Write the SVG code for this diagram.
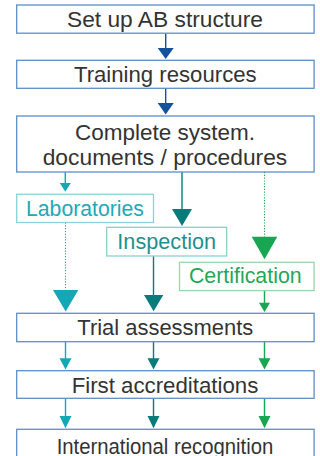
<svg xmlns="http://www.w3.org/2000/svg" width="320" height="456" viewBox="0 0 320 456">
<style>
.box{fill:#fff;stroke:#5b8fc9;stroke-width:1.3}
.t{font-family:"Liberation Sans",Arial,sans-serif;font-size:22px;fill:#333;text-anchor:middle}
.ct{font-family:"Liberation Sans",Arial,sans-serif;font-size:21.3px;text-anchor:middle}
.labBox{fill:#fff;stroke:#86d3db;stroke-width:1.3}
.insBox{fill:#fff;stroke:#8acfd0;stroke-width:1.3}
.cerBox{fill:#fff;stroke:#93d9ab;stroke-width:1.3}
.navy{stroke:#12519c;fill:none;stroke-width:1.4}
.navyF{fill:#12519c}
.cy{stroke:#14a7b5;fill:none;stroke-width:1.4}
.cyF{fill:#14a7b5}
.te{stroke:#0a7b7b;fill:none;stroke-width:1.4}
.teF{fill:#0a7b7b}
.gr{stroke:#18a652;fill:none;stroke-width:1.4}
.grF{fill:#18a652}
.dot{stroke-dasharray:1.2 1.6;stroke-width:1.1}
</style>
<g id="connectors">
<line class="navy" x1="165.7" y1="33" x2="165.7" y2="49"/>
<polygon class="navyF" points="157.7,48 173.7,48 165.7,59"/>
<line class="navy" x1="165.7" y1="88" x2="165.7" y2="104"/>
<polygon class="navyF" points="157.7,103 173.7,103 165.7,114.5"/>
<line class="cy" x1="65.3" y1="172" x2="65.3" y2="184"/>
<polygon class="cyF" points="59.8,183 70.8,183 65.3,191.7"/>
<line class="te" x1="182" y1="172" x2="182" y2="210"/>
<polygon class="teF" points="172,209 192,209 182,226"/>
<line class="gr dot" x1="264.5" y1="172" x2="264.5" y2="237"/>
<polygon class="grF" points="251.7,236.7 277.3,236.7 264.5,259.3"/>
<line class="cy dot" x1="65.5" y1="222.5" x2="65.5" y2="290"/>
<polygon class="cyF" points="53,290 78.3,290 65.7,311.5"/>
<line class="te" x1="153.5" y1="256" x2="153.5" y2="296"/>
<polygon class="teF" points="144,295 163.3,295 153.6,311.3"/>
<line class="gr" x1="264.5" y1="290.5" x2="264.5" y2="303.5"/>
<polygon class="grF" points="259,302.7 270,302.7 264.5,312"/>
<line class="cy" x1="65.5" y1="341.7" x2="65.5" y2="359"/>
<polygon class="cyF" points="59.5,358.3 71.5,358.3 65.5,369.5"/>
<line class="te" x1="153.5" y1="341.7" x2="153.5" y2="359"/>
<polygon class="teF" points="147.5,358.3 159.5,358.3 153.5,369.5"/>
<line class="gr" x1="264.5" y1="341.7" x2="264.5" y2="359"/>
<polygon class="grF" points="258.5,358.3 270.5,358.3 264.5,369.5"/>
<line class="cy" x1="65.5" y1="398.3" x2="65.5" y2="417"/>
<polygon class="cyF" points="59.5,416 71.5,416 65.5,428.3"/>
<line class="te" x1="153.5" y1="398.3" x2="153.5" y2="417"/>
<polygon class="teF" points="147.5,416 159.5,416 153.5,428.3"/>
<line class="gr" x1="264.5" y1="398.3" x2="264.5" y2="417"/>
<polygon class="grF" points="258.5,416 270.5,416 264.5,428.3"/>
</g>
<g id="setup">
<rect class="box" x="16.7" y="5" width="297.4" height="28.2"/>
<text class="t" x="165" y="26.6" textLength="196" lengthAdjust="spacingAndGlyphs">Set up AB structure</text>
</g>
<g id="training">
<rect class="box" x="16.7" y="60.3" width="297.4" height="28"/>
<text class="t" x="165.3" y="82.3" textLength="182.7" lengthAdjust="spacingAndGlyphs">Training resources</text>
</g>
<g id="complete">
<rect class="box" x="16.7" y="116" width="297.4" height="56"/>
<text class="t" x="165" y="140" textLength="180" lengthAdjust="spacingAndGlyphs">Complete system.</text>
<text class="t" x="165" y="165" textLength="244.6" lengthAdjust="spacingAndGlyphs">documents / procedures</text>
</g>
<g id="laboratories">
<rect class="labBox" x="16.7" y="194.3" width="136.8" height="28.2"/>
<text class="ct" x="85" y="216" fill="#22a9b8" textLength="118" lengthAdjust="spacingAndGlyphs">Laboratories</text>
</g>
<g id="inspection">
<rect class="insBox" x="106.7" y="227.3" width="120" height="28.7"/>
<text class="ct" x="166.7" y="249.3" fill="#1f8f8f" textLength="98.7" lengthAdjust="spacingAndGlyphs">Inspection</text>
</g>
<g id="certification">
<rect class="cerBox" x="179.5" y="262.3" width="134.6" height="28.3"/>
<text class="ct" x="245.3" y="283.3" fill="#1fa856" textLength="112.7" lengthAdjust="spacingAndGlyphs">Certification</text>
</g>
<g id="trial">
<rect class="box" x="16.7" y="313.3" width="297.4" height="28.4"/>
<text class="t" x="165.3" y="335" textLength="176" lengthAdjust="spacingAndGlyphs">Trial assessments</text>
</g>
<g id="first">
<rect class="box" x="16.7" y="370.7" width="297.4" height="27.6"/>
<text class="t" x="165" y="392.7" textLength="186.7" lengthAdjust="spacingAndGlyphs">First accreditations</text>
</g>
<g id="international">
<rect class="box" x="16.7" y="429.3" width="297.4" height="30"/>
<text class="t" x="165" y="454" textLength="216.7" lengthAdjust="spacingAndGlyphs">International recognition</text>
</g>
</svg>
